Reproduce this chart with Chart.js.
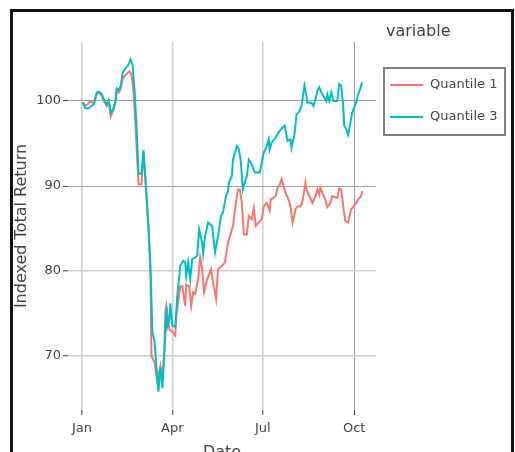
<!DOCTYPE html>
<html><head><meta charset="utf-8">
<script src="https://cdn.jsdelivr.net/npm/chart.js@4/dist/chart.umd.min.js"></script>
<style>
html,body{margin:0;padding:0;background:#fff;overflow:hidden;width:515px;height:452px;}
canvas{position:absolute;left:0;top:0;}
</style></head><body>
<canvas id="c" width="515" height="452"></canvas>
<script>
// Days since 2020-01-01
const seriesNames = ['Quantile 1', 'Quantile 3'];
const legendTitle = 'variable';
const q1Days = [1,3,6,8,12,15,17,20,22,25,27,29,32,34,35,37,39,41,44,46,48,50,52,54,57,60,62,64,67,69,70,73,76,79,81,83,84,85,88,90,92,94,95,99,101,104,105,108,110,112,114,117,119,121,123,126,130,132,135,137,141,144,147,149,152,155,157,159,161,163,166,168,171,173,175,178,181,183,186,189,190,195,197,199,201,203,205,208,210,212,215,217,220,222,225,226,229,232,235,237,239,240,242,245,247,250,252,257,259,261,263,265,268,271,273,276,278,281,282];
const q1Values = [99.9,99.5,99.6,100.0,99.7,100.9,101.0,100.6,100.0,99.4,99.9,98.2,99.0,100.0,101.2,101.0,101.4,102.6,103.1,103.3,103.5,103.1,101.0,96.9,90.2,90.2,93.9,90.6,85.0,79.5,70.0,69.3,66.9,68.8,67.0,71.0,75.1,75.9,73.1,73.0,72.7,72.4,74.7,78.2,78.2,75.9,78.4,78.2,75.9,77.5,77.3,79.0,81.6,80.2,77.5,79.0,80.2,78.6,76.7,80.2,80.6,81.0,83.3,84.1,85.3,88.0,89.6,89.6,88.0,84.3,84.3,86.5,86.1,87.4,85.3,85.7,86.1,87.6,88.0,87.1,88.4,88.8,89.8,90.1,90.8,90.0,89.2,88.4,87.6,85.7,87.3,87.6,87.6,88.2,90.4,89.6,88.8,88.0,88.8,89.6,89.0,89.8,89.2,88.4,87.5,88.0,88.8,88.6,89.7,89.6,87.6,85.9,85.7,87.3,87.5,88.0,88.4,88.8,89.4];
const q3Days = [1,3,6,8,12,15,17,20,22,25,27,29,32,34,35,37,39,41,44,46,48,49,51,53,55,57,60,62,64,67,69,71,73,75,77,79,81,83,85,86,88,89,91,94,96,99,102,104,105,107,109,111,113,116,118,121,122,124,127,131,134,137,140,142,145,147,148,151,152,154,156,158,160,162,163,166,168,170,174,176,179,183,186,188,189,191,195,199,202,204,207,210,211,214,216,219,221,224,226,227,231,233,236,237,239,241,246,247,249,251,253,257,259,261,263,264,266,268,270,272,276,278,280,282];
const q3Values = [99.8,99.2,99.1,99.3,99.6,101.0,101.1,100.8,100.2,99.6,100.1,98.6,99.2,100.2,101.5,101.3,101.7,103.3,103.9,104.1,104.6,104.9,104.2,101.3,97.0,91.5,91.4,94.2,90.8,85.2,80.5,72.7,71.8,68.7,65.8,68.7,66.2,70.4,75.8,73.5,74.3,76.2,73.5,73.5,77.1,80.6,81.2,81.0,79.4,81.0,79.0,81.4,81.5,81.8,84.9,83.3,82.0,84.1,85.7,85.3,82.2,84.1,86.5,86.9,88.8,89.4,90.4,91.2,93.1,93.9,94.7,94.3,92.8,89.6,90.0,91.2,93.1,92.8,91.6,91.6,91.6,93.9,94.7,95.5,94.3,95.1,95.7,96.5,96.9,97.1,95.3,95.5,94.5,96.1,98.4,98.8,99.4,101.8,100.6,99.8,99.8,99.4,100.6,101.2,101.6,101.0,100.0,100.8,100.0,101.0,100.0,100.0,102.0,101.8,99.4,97.1,96.7,96.0,97.3,98.6,99.8,100.8,101.4,102.2];
const xTickDays = [0, 91, 182, 274];
const xTickLabels = ['Jan', 'Apr', 'Jul', 'Oct'];
const yTickValues = [70, 80, 90, 100];

const FONT = '"DejaVu Sans", Verdana, sans-serif';
const TXT = '#444';
const colors = ['#F8766D', '#00BFC4'];

const toPoints = (days, vals) => days.map((d, i) => ({x: d, y: vals[i]}));

const legendPlugin = {
  id: 'boxLegend',
  afterDraw(chart) {
    const ctx = chart.ctx;
    ctx.save();
    ctx.textBaseline = 'middle';
    ctx.textAlign = 'left';
    ctx.fillStyle = TXT;
    ctx.font = '16px ' + FONT;
    ctx.fillText(legendTitle, 386, 32);
    ctx.strokeStyle = '#808080';
    ctx.lineWidth = 2;
    ctx.strokeRect(384, 68, 121, 67);
    seriesNames.forEach((name, i) => {
      const ds = chart.data.datasets.find(d => d.label === name);
      const y = 85 + i * 32;
      ctx.strokeStyle = ds.borderColor;
      ctx.lineWidth = 2;
      ctx.beginPath(); ctx.moveTo(390, y); ctx.lineTo(423, y); ctx.stroke();
      ctx.fillStyle = TXT;
      ctx.font = '13px ' + FONT;
      ctx.fillText(name, 430, y);
    });
    // outer frame (left, top, right; open at the bottom)
    ctx.fillStyle = '#111';
    ctx.fillRect(10, 9, 3, 443);
    ctx.fillRect(10, 9, 504, 3);
    ctx.fillRect(511, 9, 3, 443);
    ctx.restore();
  }
};

new Chart(document.getElementById('c'), {
  type: 'line',
  data: {
    datasets: [
      {label: seriesNames[0], data: toPoints(q1Days, q1Values), borderColor: colors[0], backgroundColor: colors[0], borderWidth: 2, pointRadius: 0, tension: 0, order: 1},
      {label: seriesNames[1], data: toPoints(q3Days, q3Values), borderColor: colors[1], backgroundColor: colors[1], borderWidth: 2, pointRadius: 0, tension: 0, order: 0}
    ]
  },
  options: {
    responsive: false,
    animation: false,
    devicePixelRatio: 1,
    layout: {padding: {left: 0, top: 42, right: 139, bottom: 0}},
    plugins: {legend: {display: false}, tooltip: {enabled: false}},
    scales: {
      x: {
        type: 'linear', min: -14, max: 296,
        afterBuildTicks: s => { s.ticks = xTickDays.map(v => ({value: v})); },
        afterFit: s => { s.height = 42; },
        ticks: {autoSkip: false, maxRotation: 0, padding: 6, color: TXT, font: {family: FONT, size: 13},
          callback: v => xTickLabels[xTickDays.indexOf(v)]},
        grid: {color: c => (c.tick && c.tick.value === 274) ? '#9f9f9f' : '#d0d0d0', lineWidth: c => (c.tick && c.tick.value === 274) ? 1 : 1.6, tickLength: 5, tickColor: '#444', tickWidth: 1},
        border: {display: false},
        title: {display: true, text: 'Date', color: TXT, font: {family: FONT, size: 16}, padding: {top: 0, bottom: -10}}
      },
      y: {
        type: 'linear', min: 63.65, max: 106.94,
        afterBuildTicks: s => { s.ticks = yTickValues.map(v => ({value: v})); },
        afterFit: s => { s.width = 68; },
        ticks: {padding: 2, color: TXT, font: {family: FONT, size: 13}},
        grid: {color: c => (c.tick && c.tick.value >= 90) ? '#9f9f9f' : '#d0d0d0', lineWidth: c => (c.tick && c.tick.value >= 90) ? 1 : 1.6, tickLength: 5, tickColor: '#444', tickWidth: 1},
        border: {display: false},
        title: {display: true, text: 'Indexed Total Return', color: TXT, font: {family: FONT, size: 16}, padding: {top: 12, bottom: 0}}
      }
    }
  },
  plugins: [legendPlugin]
});
</script>
</body></html>
